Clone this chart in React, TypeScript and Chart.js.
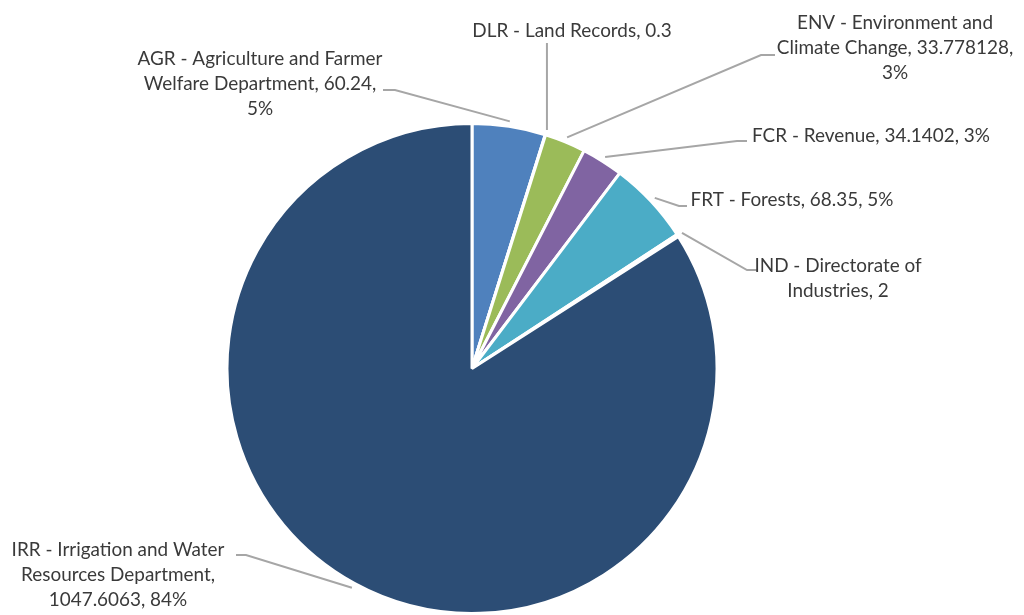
import React, { useEffect, useRef } from "react";
import { Chart, registerables } from "chart.js";

Chart.register(...registerables);

const categories = [
  "AGR - Agriculture and Farmer Welfare Department",
  "DLR - Land Records",
  "ENV - Environment and Climate Change",
  "FCR - Revenue",
  "FRT - Forests",
  "IND - Directorate of Industries",
  "IRR - Irrigation and Water Resources Department",
];
const valueLabels = ["60.24", "0.3", "33.778128", "34.1402", "68.35", "2", "1047.6063"];
const values = valueLabels.map(Number);
const colors = ["#4F81BD", "#C0504D", "#9BBB59", "#8064A2", "#4BACC6", "#F79646", "#2C4D75"];

// label placement: text block centre x, first line y, wrap width, leader attach point, elbow direction
const labelLayout = [
  { cx: 260, y0: 59, wrap: 258, ax: 383, ay: 90, elbow: 12 },
  { cx: 572, y0: 31, wrap: 300, ax: 0, ay: 43, elbow: 0, vertical: true },
  { cx: 895, y0: 23, wrap: 240, ax: 775, ay: 55, elbow: -14 },
  { cx: 871, y0: 136, wrap: 300, ax: 747, ay: 141, elbow: -10 },
  { cx: 792, y0: 200, wrap: 300, ax: 687, ay: 206, elbow: -8 },
  { cx: 838, y0: 266, wrap: 190, ax: 757, ay: 270, elbow: -10 },
  { cx: 118, y0: 550, wrap: 225, ax: 236, ay: 555, elbow: 10 },
];

const FONT_FAMILY = "Lato, 'Open Sans', sans-serif";
const TEXT_COLOR = "#3A3A3A";
const LEADER_COLOR = "#A6A6A6";
const LINE_HEIGHT = 25;

function wrapText(ctx: CanvasRenderingContext2D, text: string, maxW: number): string[] {
  const words = text.split(" ");
  const lines: string[] = [];
  let cur = "";
  for (const w of words) {
    const test = cur ? cur + " " + w : w;
    if (cur && ctx.measureText(test).width > maxW) {
      lines.push(cur);
      cur = w;
    } else {
      cur = test;
    }
  }
  if (cur) lines.push(cur);
  return lines;
}

const labelPlugin = {
  id: "excelLabels",
  afterDraw(chart: any) {
    const ctx: CanvasRenderingContext2D = chart.ctx;
    const meta = chart.getDatasetMeta(0);
    const total = values.reduce((a, b) => a + b, 0);
    ctx.save();
    ctx.font = `100px ${FONT_FAMILY}`;
    const refW = ctx.measureText("FCR - Revenue, 34.1402, 3%").width;
    const size = (100 * 238) / refW;
    ctx.font = `${size}px ${FONT_FAMILY}`;
    meta.data.forEach((arc: any, i: number) => {
      const p = arc.getProps(["x", "y", "startAngle", "endAngle", "outerRadius"], true);
      const mid = (p.startAngle + p.endAngle) / 2;
      const r = p.outerRadius + 5;
      const px = p.x + Math.cos(mid) * r;
      const py = p.y + Math.sin(mid) * r;
      const L = labelLayout[i];
      const pct = Math.round((values[i] / total) * 100);
      let text = `${categories[i]}, ${valueLabels[i]}`;
      if (pct > 0) text += `, ${pct}%`;
      ctx.strokeStyle = LEADER_COLOR;
      ctx.lineWidth = 2;
      ctx.beginPath();
      if (L.vertical) {
        ctx.moveTo(px, L.ay);
        ctx.lineTo(px, py);
      } else {
        ctx.moveTo(L.ax, L.ay);
        ctx.lineTo(L.ax + L.elbow, L.ay);
        ctx.lineTo(px, py);
      }
      ctx.stroke();
      ctx.fillStyle = TEXT_COLOR;
      ctx.textAlign = "center";
      ctx.textBaseline = "middle";
      const lines = wrapText(ctx, text, L.wrap);
      lines.forEach((ln, k) => ctx.fillText(ln, L.cx, L.y0 + k * LINE_HEIGHT));
    });
    ctx.restore();
  },
};

export default function App() {
  const ref = useRef<HTMLCanvasElement | null>(null);
  useEffect(() => {
    if (!ref.current) return;
    const chart = new Chart(ref.current, {
      type: "pie",
      data: {
        labels: categories,
        datasets: [
          {
            data: values,
            backgroundColor: colors,
            borderColor: "#FFFFFF",
            borderWidth: 3,
          },
        ],
      },
      options: {
        responsive: false,
        animation: false,
        layout: { padding: { left: 224, right: 304, top: 122, bottom: -3 } },
        plugins: {
          legend: { display: false },
          tooltip: { enabled: false },
        },
      },
      plugins: [labelPlugin],
    });
    return () => chart.destroy();
  }, []);
  return (
    <div style={{ position: "absolute", left: 0, top: 0, width: 1024, height: 615, background: "#fff" }}>
      <canvas ref={ref} width={1024} height={615} style={{ display: "block" }} />
    </div>
  );
}
